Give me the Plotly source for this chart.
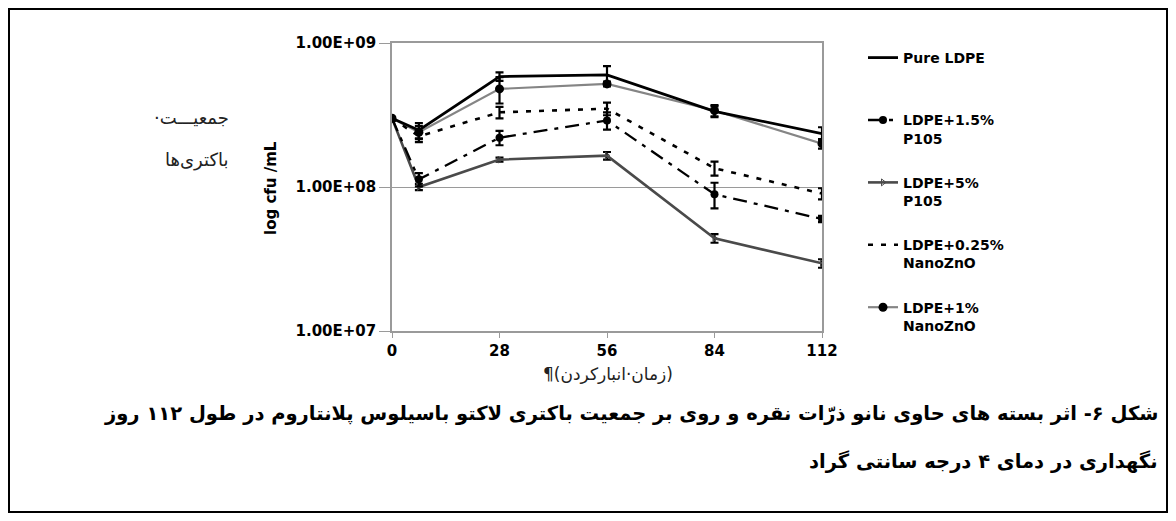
import plotly.graph_objects as go

# ---------------- data ----------------
days = [0, 7, 28, 56, 84, 112]
x_ticks = [0, 28, 56, 84, 112]
y_tickvals = [1e7, 1e8, 1e9]
y_ticktext = ["1.00E+07", "1.00E+08", "1.00E+09"]

series_names = ["Pure LDPE", "LDPE+1.5%<br>P105", "LDPE+5%<br>P105",
                "LDPE+0.25%<br>NanoZnO", "LDPE+1%<br>NanoZnO"]

pure_ldpe     = [3.0e8, 2.48e8, 5.85e8, 6.0e8, 3.35e8, 2.35e8]
ldpe_15_p105  = [3.0e8, 1.13e8, 2.2e8, 2.9e8, 8.9e7, 6.0e7]
ldpe_5_p105   = [3.0e8, 1.0e8, 1.55e8, 1.65e8, 4.4e7, 2.95e7]
ldpe_025_zno  = [3.0e8, 2.25e8, 3.3e8, 3.5e8, 1.35e8, 9.0e7]
ldpe_1_zno    = [3.0e8, 2.4e8, 4.8e8, 5.2e8, 3.4e8, 2.0e8]

err_pure      = [0, 3.0e7, 4.0e7, 9.0e7, 3.0e7, 2.5e7]
err_15_p105   = [0, 1.2e7, 2.5e7, 4.0e7, 1.8e7, 3.0e6]
err_5_p105    = [0, 5.0e6, 5.0e6, 1.0e7, 3.0e6, 2.0e6]
err_025_zno   = [0, 2.0e7, 3.0e7, 3.5e7, 1.5e7, 8.0e6]
err_1_zno     = [0, 2.5e7, 1.0e8, 2.0e7, 3.0e7, 1.5e7]

caption_1 = "شکل ۶- اثر بسته های حاوی نانو ذرّات نقره و روی بر جمعیت باکتری لاکتو باسیلوس پلانتاروم در طول ۱۱۲ روز"
caption_2 = "نگهداری در دمای ۴ درجه سانتی گراد"
x_title = "(زمان·انبارکردن)¶"
y_title_fa_1 = "جمعیـــت·"
y_title_fa_2 = "باکتری‌ها"
y_title_en = "log cfu /mL"

# ---------------- layout geometry (page pixels) ----------------
OFF = 8                     # page body margin on every side
WIDTH, HEIGHT = 1176 - 2 * OFF, 521 - 2 * OFF
L, R, T, B = 392, 822, 43, 331   # plot area in page pixels
PW, PH = R - L, B - T

def px(x):
    return (x - L) / PW

def py(y):
    return (B - y) / PH

RLM = "\u200f"
LAT = "DejaVu Sans, Verdana, sans-serif"
FA = "DejaVu Sans, sans-serif"

fig = go.Figure()

def err(arr):
    return dict(type="data", array=arr, visible=True, color="black",
                thickness=2.2, width=4)

fig.add_trace(go.Scatter(
    x=days, y=ldpe_5_p105, name=series_names[2], legendrank=3,
    mode="lines+markers",
    line=dict(color="#4a4a4a", width=2.6),
    marker=dict(symbol="triangle-right-open", size=6, color="#4a4a4a"),
    error_y=err(err_5_p105)))

fig.add_trace(go.Scatter(
    x=days, y=ldpe_1_zno, name=series_names[4], legendrank=5,
    mode="lines+markers",
    line=dict(color="#858585", width=2.2),
    marker=dict(symbol="circle", size=9, color="black"),
    error_y=err(err_1_zno)))

fig.add_trace(go.Scatter(
    x=days, y=ldpe_025_zno, name=series_names[3], legendrank=4,
    mode="lines",
    line=dict(color="black", width=2.6, dash="5px,8px"),
    error_y=err(err_025_zno)))

fig.add_trace(go.Scatter(
    x=days, y=ldpe_15_p105, name=series_names[1], legendrank=2,
    mode="lines+markers",
    line=dict(color="black", width=2.3, dash="14px,7px,4px,7px"),
    marker=dict(symbol="circle", size=8, color="black"),
    error_y=err(err_15_p105)))

fig.add_trace(go.Scatter(
    x=days, y=pure_ldpe, name=series_names[0] + "<br> ", legendrank=1,
    mode="lines",
    line=dict(color="black", width=2.8),
    error_y=err(err_pure)))

for i, tr in enumerate(fig.data):
    tr.legendgroup = f"g{i}"

fig.update_layout(
    width=WIDTH, height=HEIGHT,
    margin=dict(l=L - OFF, r=WIDTH - (R - OFF), t=T - OFF,
                b=HEIGHT - (B - OFF), pad=0),
    paper_bgcolor="white", plot_bgcolor="white",
    font=dict(family=LAT, size=14, color="black"),
    showlegend=True,
    legend=dict(
        x=px(863), y=py(42), xanchor="left", yanchor="top",
        bgcolor="rgba(0,0,0,0)", borderwidth=0, maxheight=400,
        font=dict(family=LAT, size=14, color="black", weight="bold"),
        valign="top", tracegroupgap=23, itemwidth=30,
        traceorder="grouped",
    ),
    xaxis=dict(
        range=[0, 112], tickvals=x_ticks, ticktext=[str(v) for v in x_ticks],
        showgrid=False, zeroline=False,
        showline=True, linecolor="#9a9a9a", linewidth=1.5, mirror=True,
        ticks="outside", ticklen=5, tickcolor="#9a9a9a", tickwidth=1,
        tickfont=dict(family=LAT, size=15, color="black", weight="bold"),
    ),
    yaxis=dict(
        type="log", range=[7, 9], tickvals=y_tickvals, ticktext=y_ticktext,
        showgrid=True, gridcolor="#9a9a9a", gridwidth=1,
        zeroline=False,
        showline=True, linecolor="#9a9a9a", linewidth=1.5, mirror=True,
        ticks="outside", ticklen=11, tickcolor="#9a9a9a", tickwidth=1,
        tickfont=dict(family=LAT, size=15, color="black", weight="bold"),
    ),
)

annotations = [
    dict(text=y_title_en, x=px(271), y=py(188), textangle=-90,
         font=dict(family=LAT, size=15, color="black", weight="bold")),
    dict(text=RLM + y_title_fa_1 + RLM, x=px(231), y=py(117), xanchor="right",
         font=dict(family=FA, size=18, color="#222")),
    dict(text=RLM + y_title_fa_2 + RLM, x=px(231), y=py(160), xanchor="right",
         font=dict(family=FA, size=18, color="#222")),
    dict(text=RLM + x_title + RLM, x=px(608), y=py(374),
         font=dict(family=FA, size=17, color="#222")),
    dict(text=RLM + caption_1 + RLM, x=px(1160), y=py(413), xanchor="right",
         font=dict(family=FA, size=19.5, color="black", weight="bold")),
    dict(text=RLM + caption_2 + RLM, x=px(1160), y=py(461), xanchor="right",
         font=dict(family=FA, size=19.5, color="black", weight="bold")),
]
for a in annotations:
    a.update(xref="paper", yref="paper", showarrow=False)
    a.setdefault("xanchor", "center")
    a.setdefault("yanchor", "middle")
fig.update_layout(annotations=annotations)

# outer frame of the figure box
fig.add_shape(type="rect", xref="paper", yref="paper",
              x0=px(OFF + 1), x1=px(1176 - OFF - 1),
              y0=py(521 - OFF - 1), y1=py(OFF + 1),
              line=dict(color="black", width=2), fillcolor="rgba(0,0,0,0)")

fig.write_html("out.html")
